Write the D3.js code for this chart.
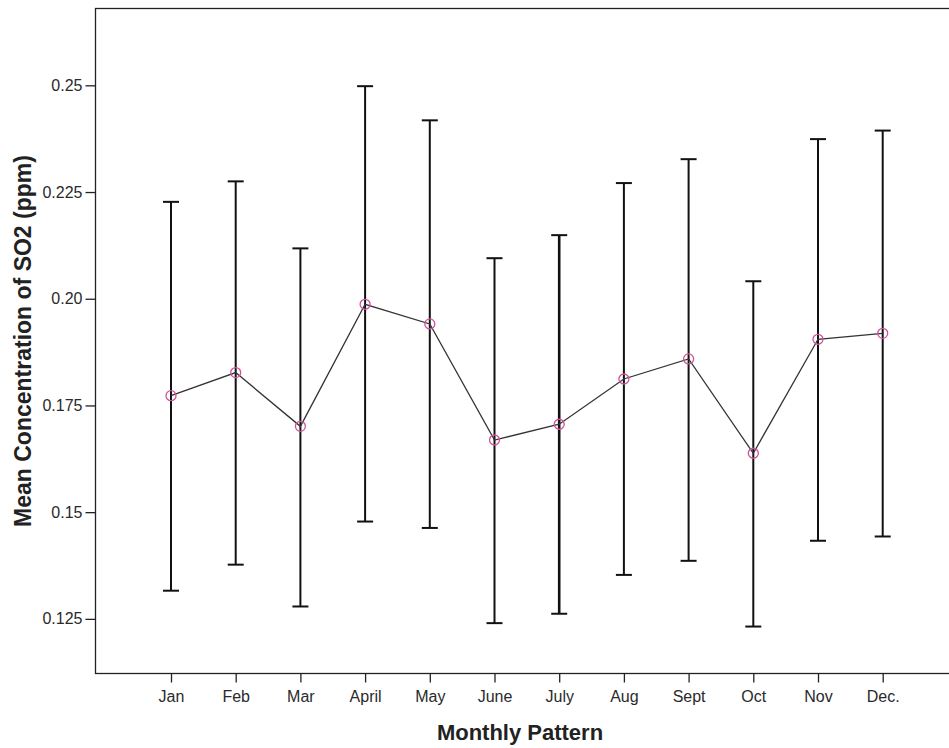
<!DOCTYPE html>
<html><head><meta charset="utf-8">
<script src="https://cdn.jsdelivr.net/npm/d3@7"></script>
<style>body{margin:0;background:#fff}svg{display:block}</style>
</head><body>
<svg id="c" width="949" height="748"></svg>
<script>
const months = ["Jan","Feb","Mar","April","May","June","July","Aug","Sept","Oct","Nov","Dec."];
const means  = [0.1773,0.1827,0.1701,0.1987,0.1941,0.1669,0.1706,0.1812,0.1859,0.1638,0.1905,0.1919];
const upper  = [0.2227,0.2275,0.2118,0.2498,0.2418,0.2095,0.2149,0.2271,0.2327,0.2041,0.2374,0.2394];
const lower  = [0.1316,0.1377,0.1279,0.1478,0.1463,0.1240,0.1262,0.1353,0.1386,0.1232,0.1433,0.1443];
const yTicks = [0.125,0.15,0.175,0.20,0.225,0.25];
const yTickLabels = ["0.125","0.15","0.175","0.20","0.225","0.25"];

const FONT = "Liberation Sans, Arial, sans-serif";
const svg = d3.select("#c");
const L = 95.5, T = 8.5, R = 960, B = 673.5;
const x = d3.scalePoint().domain(months).range([171, 882.7]);
const y = d3.scaleLinear().domain([0.1122, 0.268]).range([B, T]);

svg.append("rect").attr("x",L).attr("y",T).attr("width",R-L).attr("height",B-T)
  .attr("fill","none").attr("stroke","#222").attr("stroke-width",1.3);

const yAxis = d3.axisLeft(y).tickValues(yTicks).tickSize(10).tickPadding(3)
  .tickFormat((d,i)=>yTickLabels[i]);
const gy = svg.append("g").attr("transform",`translate(${L},0)`).call(yAxis);
gy.select(".domain").remove();
gy.selectAll("line").attr("stroke","#222").attr("stroke-width",1.3);
gy.selectAll("text").attr("font-family",FONT).attr("font-size",16).attr("fill","#2a2a2a");

const xAxis = d3.axisBottom(x).tickSize(9).tickPadding(8);
const gx = svg.append("g").attr("transform",`translate(0,${B})`).call(xAxis);
gx.select(".domain").remove();
gx.selectAll("line").attr("stroke","#222").attr("stroke-width",1.3);
gx.selectAll("text").attr("font-family",FONT).attr("font-size",16).attr("fill","#2a2a2a");

const data = months.map((m,i)=>({m, mean:means[i], lo:lower[i], hi:upper[i]}));
const eb = svg.append("g");
eb.selectAll(".v").data(data).join("line")
  .attr("x1",d=>x(d.m)).attr("x2",d=>x(d.m)).attr("y1",d=>y(d.lo)).attr("y2",d=>y(d.hi))
  .attr("stroke","#111").attr("stroke-width",d=>d.m==="July"?2.6:2);
eb.selectAll(".ct").data(data).join("line")
  .attr("x1",d=>x(d.m)-8).attr("x2",d=>x(d.m)+8).attr("y1",d=>y(d.hi)).attr("y2",d=>y(d.hi))
  .attr("stroke","#111").attr("stroke-width",2);
eb.selectAll(".cb").data(data).join("line")
  .attr("x1",d=>x(d.m)-8).attr("x2",d=>x(d.m)+8).attr("y1",d=>y(d.lo)).attr("y2",d=>y(d.lo))
  .attr("stroke","#111").attr("stroke-width",2);

svg.append("path").datum(data)
  .attr("d", d3.line().x(d=>x(d.m)).y(d=>y(d.mean)))
  .attr("fill","none").attr("stroke","#333").attr("stroke-width",1.3);

svg.append("g").selectAll("circle").data(data).join("circle")
  .attr("cx",d=>x(d.m)).attr("cy",d=>y(d.mean)).attr("r",5)
  .attr("fill","none").attr("stroke","#d0509c").attr("stroke-width",1.3);

svg.append("text").attr("x",520).attr("y",740).attr("text-anchor","middle")
  .attr("font-family",FONT).attr("font-weight","bold").attr("font-size",22)
  .attr("fill","#222").text("Monthly Pattern");
svg.append("text").attr("transform","translate(31,341) rotate(-90)").attr("text-anchor","middle")
  .attr("font-family",FONT).attr("font-weight","bold").attr("font-size",23)
  .attr("fill","#222").text("Mean Concentration of SO2 (ppm)");
</script>
</body></html>
